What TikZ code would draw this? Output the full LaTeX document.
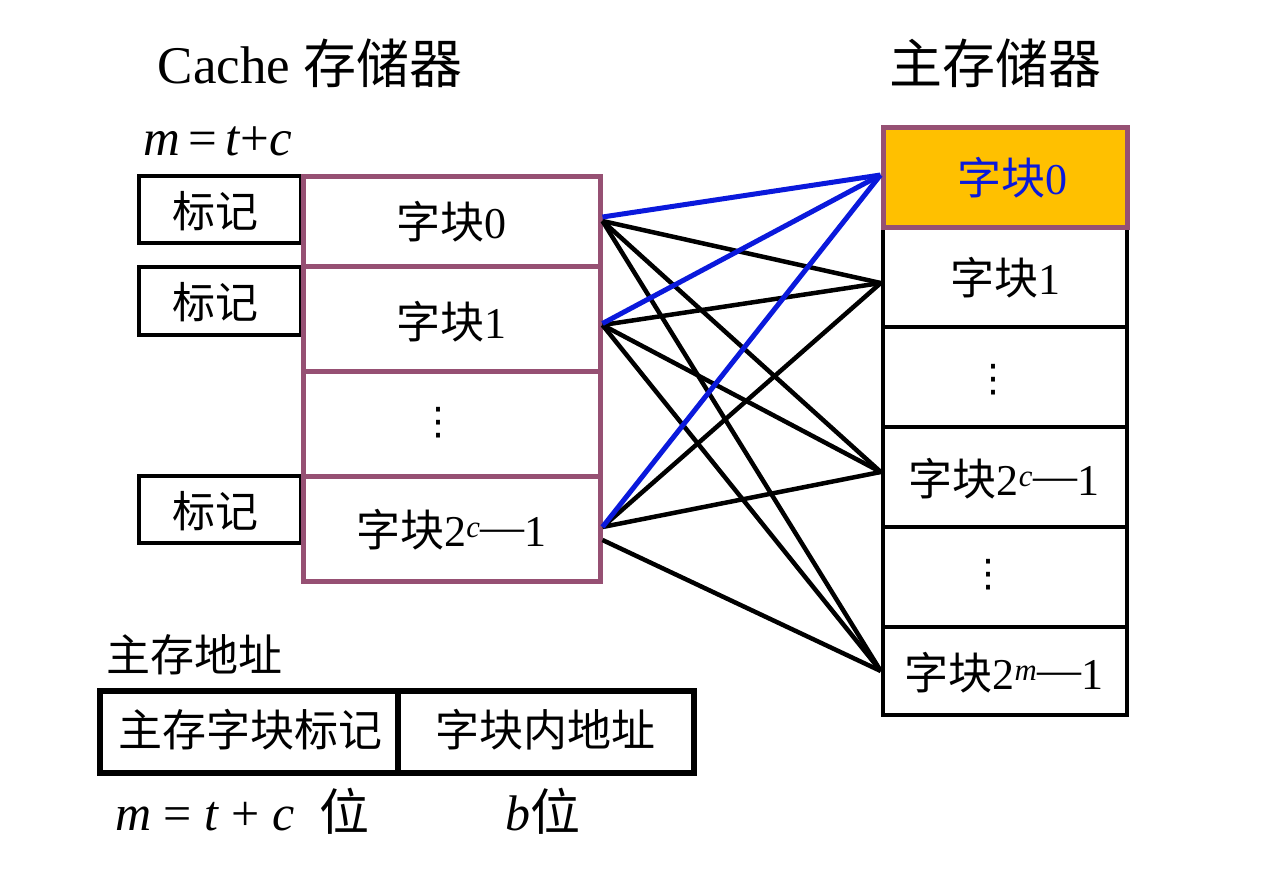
\documentclass[tikz,border=0pt]{standalone}
\usepackage{fontspec}
\setmainfont{Liberation Serif}
\newfontfamily\cjk{Noto Sans CJK SC}
\newfontfamily\dotsfont{DejaVu Sans}
\definecolor{cpurple}{RGB}{150,80,115}
\definecolor{corange}{RGB}{255,192,0}
\definecolor{cblue}{RGB}{10,25,220}
\newcommand{\fsz}[1]{\fontsize{#1}{#1}\selectfont}
\newcommand{\longdash}{\raisebox{0.12em}{—}}
\begin{document}
\begin{tikzpicture}[x=1pt,y=-1pt,
  tagbox/.style={draw=black, line width=4pt, minimum width=162pt, inner sep=0pt},
  ccell/.style={draw=cpurple, line width=5pt, minimum width=297pt, inner sep=0pt},
  mcell/.style={draw=black, line width=4.5pt, minimum width=244pt, minimum height=100pt, inner sep=0pt},
  addr/.style={draw=black, line width=6pt, minimum height=82pt, inner sep=0pt},
  celltext/.style={font=\fsz{44}, inner sep=0pt},
  tagtext/.style={font=\fsz{43}, inner sep=0pt},
  vdot/.style={font=\dotsfont\fsz{38}, inner sep=0pt},
  blk/.style={line width=4.5pt, draw=black},
  blu/.style={line width=5pt, draw=cblue},
  title/.style={font=\fsz{53}, inner sep=0pt}
]
\useasboundingbox (0,0) rectangle (1277,871);

% titles
\node[title] (tc) at (310,63) {Cache {\cjk 存储器}};
\node[title] (tm) at (995,63) {\cjk 主存储器};
\node[font=\fsz{51}, inner sep=0pt, anchor=base west] (eq1) at (143,155) {\textit{m}\,=\,\textit{t}+\textit{c}};

% tag boxes
\node[tagbox, minimum height=67pt] (t0) at (220,209.5) {};
\node[tagbox, minimum height=68pt] (t1) at (220,301) {};
\node[tagbox, minimum height=67pt] (t3) at (220,509.5) {};
\node[tagtext] (tl0) at (215,211) {\cjk 标记};
\node[tagtext] (tl1) at (215,302) {\cjk 标记};
\node[tagtext] (tl3) at (215,511) {\cjk 标记};

% cache cells
\node[ccell, minimum height=90pt] (c0) at (451.5,221) {};
\node[ccell, minimum height=105pt] (c1) at (451.5,318.5) {};
\node[ccell, minimum height=105pt] (c2) at (451.5,423.5) {};
\node[ccell, minimum height=105pt] (c3) at (451.5,528.5) {};
\node[celltext] (cl0) at (451.5,222) {{\cjk 字块}0};
\node[celltext] (cl1) at (451.5,322) {{\cjk 字块}1};
\node[vdot] (cl2) at (438,423) {⋮};
\node[celltext] (cl3) at (451.5,530) {{\cjk 字块}2\textsuperscript{\textit{c}}\longdash1};

% main memory cells
\node[mcell] (m1) at (1005,277) {};
\node[mcell] (m2) at (1005,377) {};
\node[mcell] (m3) at (1005,477) {};
\node[mcell] (m4) at (1005,577) {};
\node[mcell, minimum height=88pt] (m5) at (1005,671) {};
\node[mcell, fill=corange, draw=cpurple, line width=5pt] (m0) at (1005,177) {};
\node[celltext, text=cblue] (ml0) at (1012,178) {{\cjk 字块}0};
\node[celltext] (ml1) at (1005,278) {{\cjk 字块}1};
\node[vdot] (ml2) at (993,380) {⋮};
\node[celltext] (ml3) at (1004,479) {{\cjk 字块}2\textsuperscript{\textit{c}}\longdash1};
\node[vdot] (ml4) at (988,575) {⋮};
\node[celltext] (ml5) at (1004,673) {{\cjk 字块}2\textsuperscript{\textit{m}}\longdash1};

% connectors (black)
\draw[blk] (c0.east) -- ([yshift=-6pt]m1.west);
\draw[blk] (c0.east) -- ([yshift=5pt]m3.west);
\draw[blk] (c0.east) -- (m5.west);
\draw[blk] ([yshift=-6.5pt]c1.east) -- ([yshift=-6pt]m1.west);
\draw[blk] ([yshift=-6.5pt]c1.east) -- ([yshift=5pt]m3.west);
\draw[blk] ([yshift=-6.5pt]c1.east) -- (m5.west);
\draw[blk] ([yshift=1.5pt]c3.east) -- ([yshift=-6pt]m1.west);
\draw[blk] ([yshift=1.5pt]c3.east) -- ([yshift=5pt]m3.west);
\draw[blk] ([yshift=-11.5pt]c3.east) -- (m5.west);
% connectors (blue)
\draw[blu] ([yshift=4pt]c0.east) -- ([yshift=2pt]m0.west);
\draw[blu] ([yshift=-5pt]c1.east) -- ([yshift=2pt]m0.west);
\draw[blu] ([yshift=1.5pt]c3.east) -- ([yshift=2pt]m0.west);

% address
\node[font=\fsz{44}, inner sep=0pt, anchor=west] (al) at (106,655) {\cjk 主存地址};
\node[addr, minimum width=298pt] (a1) at (249,732) {};
\node[addr, minimum width=296pt] (a2) at (546,732) {};
\node[font=\fsz{44}, inner sep=0pt] (a1l) at (250,730) {\cjk 主存字块标记};
\node[font=\fsz{44}, inner sep=0pt] (a2l) at (545,730) {\cjk 字块内地址};
\node[font=\fsz{50}, inner sep=0pt, anchor=base west] (b1) at (115,830) {\textit{m} = \textit{t} + \textit{c}\ \ {\cjk 位}};
\node[font=\fsz{50}, inner sep=0pt, anchor=base] (b2) at (543,830) {\textit{b}{\cjk 位}};
\end{tikzpicture}
\end{document}
